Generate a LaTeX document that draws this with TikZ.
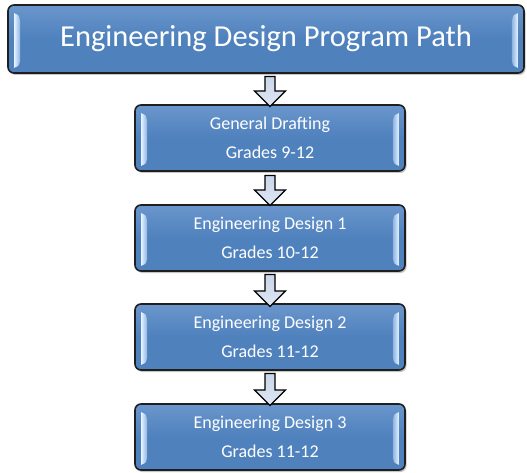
\documentclass[tikz,border=0pt]{standalone}
\usepackage{fontspec}
\setmainfont{Carlito}
\usetikzlibrary{shapes.arrows,shadows}
\definecolor{boxblue}{HTML}{4F81BD}
\definecolor{boxtop}{HTML}{6A96CC}
\definecolor{glossA}{HTML}{E4F2FF}
\definecolor{glossB}{HTML}{8DB3E2}
\definecolor{boxedge}{HTML}{1F1F1F}
\definecolor{arrowfill}{HTML}{C9D6EA}
\tikzset{
  x=1pt,y=-1pt,
  stepbox/.style={draw=boxedge,line width=1.6pt,rounded corners=6pt,
    top color=boxtop,bottom color=boxblue,middle color=boxblue,
    text=white,minimum width=270pt,minimum height=66pt,align=center,
    drop shadow={shadow xshift=1.5pt,shadow yshift=-2pt,opacity=0.45},
    font=\fontsize{18}{29}\selectfont},
  titlebox/.style={stepbox,minimum width=516pt,minimum height=68pt,font=\fontsize{30.5}{34}\selectfont},
  downarrow/.style={single arrow,shape border rotate=270,draw=black,line width=1.2pt,
    top color=arrowfill,bottom color=arrowfill!60!white,minimum width=31pt,single arrow head extend=7.5pt,
    single arrow tip angle=90,inner sep=3pt},
  glossL/.style={left color=glossA,right color=glossB,draw=none},
  glossR/.style={right color=glossA,left color=glossB,draw=none}
}
\begin{document}
\begin{tikzpicture}
\useasboundingbox (0,0) rectangle (527,473);
\node[titlebox] (t) at (266,39) {Engineering Design Program Path};
\node[stepbox] (b1) at (270,138) {General Drafting\\Grades 9-12};
\node[stepbox] (b2) at (270,238) {Engineering Design 1\\Grades 10-12};
\node[stepbox] (b3) at (270,337) {Engineering Design 2\\Grades 11-12};
\node[stepbox] (b4) at (270,437) {Engineering Design 3\\Grades 11-12};
% gloss bars
\foreach \n in {t,b1,b2,b3,b4}{
  \shade[glossL] ([xshift=7pt,yshift=-9pt]\n.north west) .. controls ([xshift=12pt,yshift=-11pt]\n.north west) .. ([xshift=13pt,yshift=-18pt]\n.north west)
     -- ([xshift=13pt,yshift=14pt]\n.south west) .. controls ([xshift=12pt,yshift=8pt]\n.south west) .. ([xshift=7pt,yshift=6pt]\n.south west) -- cycle;
  \shade[glossR] ([xshift=-7pt,yshift=-9pt]\n.north east) .. controls ([xshift=-12pt,yshift=-11pt]\n.north east) .. ([xshift=-13pt,yshift=-18pt]\n.north east)
     -- ([xshift=-13pt,yshift=14pt]\n.south east) .. controls ([xshift=-12pt,yshift=8pt]\n.south east) .. ([xshift=-7pt,yshift=6pt]\n.south east) -- cycle;
}
\node[downarrow,minimum height=30pt] (a1) at (270,89) {};
\node[downarrow,minimum height=30pt] (a2) at (270,188) {};
\node[downarrow,minimum height=32pt] (a3) at (270,288) {};
\node[downarrow,minimum height=32pt] (a4) at (270,387) {};
\end{tikzpicture}
\end{document}
